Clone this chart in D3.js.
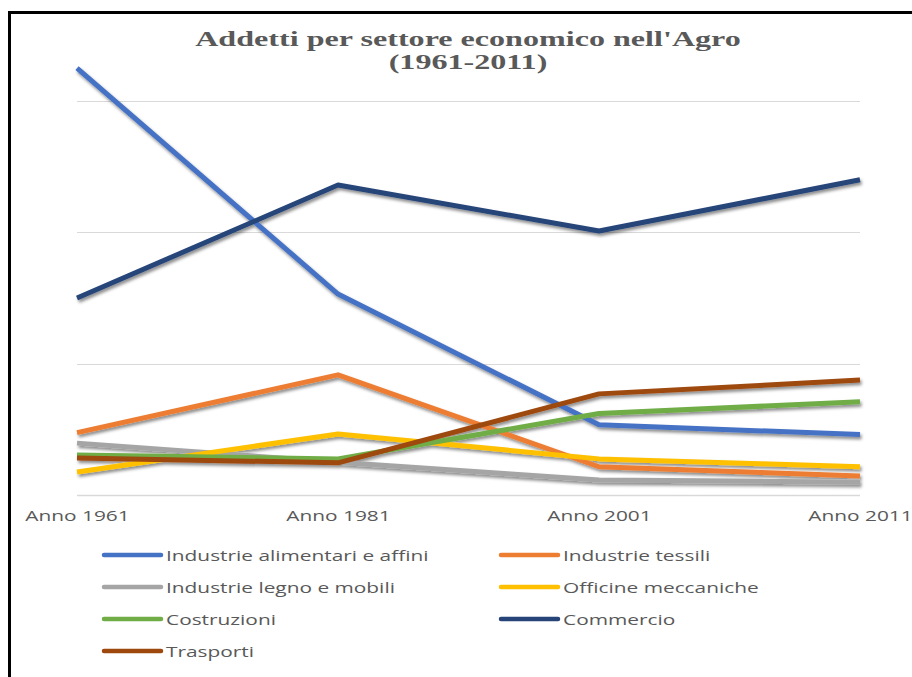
<!DOCTYPE html>
<html>
<head>
<meta charset="utf-8">
<script src="https://cdn.jsdelivr.net/npm/d3@7"></script>
<style>
  html, body { margin: 0; padding: 0; background: #fff; }
  svg { display: block; }
</style>
</head>
<body>
<svg id="chart" width="912" height="677"></svg>
<script>
// ---------------- DATA ----------------
const categories = ["Anno 1961", "Anno 1981", "Anno 2001", "Anno 2011"];
const seriesNames = [
  "Industrie alimentari e affini",
  "Industrie tessili",
  "Industrie legno e mobili",
  "Officine meccaniche",
  "Costruzioni",
  "Commercio",
  "Trasporti"
];
const alimentari  = [3250, 1530, 535, 460];
const tessili     = [475, 915, 215, 145];
const legno       = [395, 250, 115, 98];
const officine    = [175, 465, 275, 215];
const costruzioni = [305, 275, 620, 710];
const commercio   = [1500, 2360, 2010, 2400];
const trasporti   = [282, 245, 770, 875];
const yTicks = [0, 1000, 2000, 3000];
const colors = ["#4472C4", "#ED7D31", "#A5A5A5", "#FFC000", "#70AD47", "#264478", "#9E480E"];
const titleLines = ["Addetti per settore economico nell'Agro", "(1961-2011)"];

const seriesValues = [alimentari, tessili, legno, officine, costruzioni, commercio, trasporti];

// ---------------- LAYOUT ----------------
const svg = d3.select("#chart");
const plot = { left: 77, right: 860, top: 101, bottom: 495 };
const textColor = "#595959";
const stretch = 1.39;      // horizontal stretch of sans text
const titleStretch = 1.46; // horizontal stretch of title text

// border (top + left)
svg.append("line").attr("x1", 9.5).attr("x2", 912).attr("y1", 12.5).attr("y2", 12.5)
  .attr("stroke", "#000").attr("stroke-width", 3);
svg.append("line").attr("x1", 9.5).attr("x2", 9.5).attr("y1", 11).attr("y2", 677)
  .attr("stroke", "#000").attr("stroke-width", 3);

// shadow filter
const defs = svg.append("defs");
const f = defs.append("filter").attr("id", "shadow")
  .attr("x", "-10%").attr("y", "-10%").attr("width", "120%").attr("height", "130%");
f.append("feDropShadow").attr("dx", 1.5).attr("dy", 2.5).attr("stdDeviation", 1.4)
  .attr("flood-color", "#000").attr("flood-opacity", 0.45);

// scales
const x = d3.scalePoint().domain(categories).range([plot.left, plot.right]);
const y = d3.scaleLinear().domain([0, 3000]).range([plot.bottom, plot.top]);

// title
titleLines.forEach((t, i) => {
  svg.append("g")
    .attr("transform", `translate(468,${46 + i * 23}) scale(${titleStretch},1)`)
    .append("text")
    .attr("text-anchor", "middle")
    .attr("font-family", "'Liberation Serif', 'Times New Roman', serif")
    .attr("font-weight", "bold")
    .attr("font-size", 22)
    .attr("fill", textColor)
    .text(t);
});

// gridlines
svg.append("g").selectAll("line").data(yTicks).join("line")
  .attr("x1", plot.left).attr("x2", plot.right)
  .attr("y1", d => Math.round(y(d)) + 0.5).attr("y2", d => Math.round(y(d)) + 0.5)
  .attr("stroke", "#d9d9d9").attr("stroke-width", d => d === 0 ? 1.5 : 1);

// x-axis labels via d3 axis
const xAxis = svg.append("g")
  .attr("transform", `translate(0,${plot.bottom})`)
  .call(d3.axisBottom(x).tickSize(0).tickPadding(0));
xAxis.select(".domain").remove();
xAxis.selectAll(".tick text").remove();
xAxis.selectAll(".tick").append("g")
  .attr("transform", `translate(0,26) scale(${stretch},1)`)
  .append("text")
  .attr("text-anchor", "middle")
  .attr("font-family", "'Open Sans', sans-serif")
  .attr("font-size", 15)
  .attr("fill", textColor)
  .text(d => d);

// lines
const line = d3.line().x((d, i) => x(categories[i])).y(d => y(d));
svg.append("g").attr("filter", "url(#shadow)")
  .selectAll("path").data(seriesValues).join("path")
  .attr("d", d => line(d))
  .attr("fill", "none")
  .attr("stroke", (d, i) => colors[i])
  .attr("stroke-width", 5)
  .attr("stroke-linejoin", "round")
  .attr("stroke-linecap", "butt");

// legend
const legendCols = [104, 501];
const legendRows = [555, 587, 619, 651];
seriesNames.forEach((name, i) => {
  const lx = legendCols[i % 2];
  const ly = legendRows[Math.floor(i / 2)];
  const g = svg.append("g").attr("transform", `translate(${lx},${ly})`);
  g.append("line").attr("x1", 0).attr("x2", 57).attr("y1", 0).attr("y2", 0)
    .attr("stroke", colors[i]).attr("stroke-width", 4.5).attr("stroke-linecap", "round");
  g.append("g").attr("transform", `translate(62,5.5) scale(${stretch},1)`)
    .append("text")
    .attr("font-family", "'Open Sans', sans-serif")
    .attr("font-size", 15)
    .attr("fill", textColor)
    .text(name);
});
</script>
</body>
</html>
